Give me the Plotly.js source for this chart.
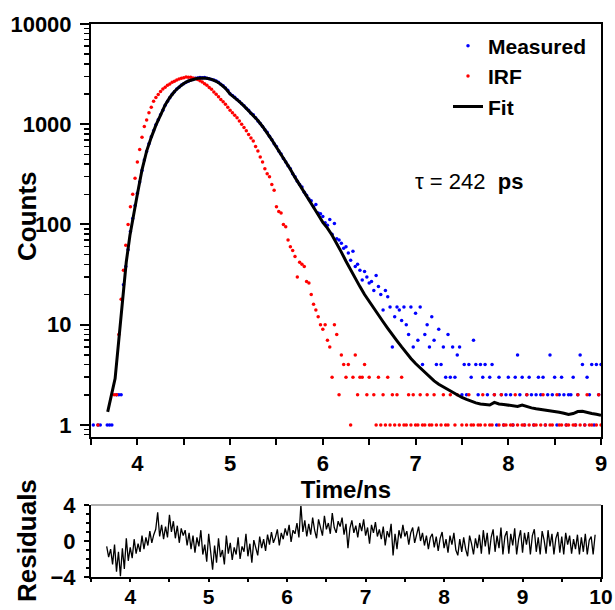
<!DOCTYPE html>
<html>
<head>
<meta charset="utf-8">
<script src="https://cdn.plot.ly/plotly-3.0.1.min.js"></script>
<style>
  html, body { margin: 0; padding: 0; background: #ffffff; }
  #chart { width: 615px; height: 610px; }
</style>
</head>
<body>
<div id="chart"></div>
<script>
// ---------- DATA ----------
// TCSPC channels: first channel time and channel width (ns)
const channelStart = 3.525;
const channelWidth = 0.025;

// Measured decay counts per channel (null = zero counts, not drawn on log axis)
const measuredCounts = [
  1, null, 1, 1, null, null, 1, 1, 1, null,
  2, 2, 2, 25, 38, 56, 85, 115, 155, 205,
  265, 345, 440, 535, 640, 750, 860, 990, 1110, 1240,
  1380, 1550, 1700, 1840, 1990, 2110, 2250, 2340, 2460, 2540,
  2630, 2690, 2760, 2800, 2870, 2900, 2930, 2910, 2920, 2880,
  2850, 2800, 2760, 2700, 2620, 2510, 2420, 2300, 2180, 2020,
  1940, 1860, 1770, 1690, 1600, 1530, 1440, 1380, 1290, 1240,
  1160, 1080, 1020, 950, 880, 830, 760, 700, 640, 600,
  540, 505, 455, 420, 385, 360, 320, 300, 270, 250,
  236, 210, 196, 180, 172, 150, 158, 130, 128, 120,
  104, 98, 112, 80, 102, 72, 70, 65, 58, 60,
  52, 44, 54, 38, 40, 35, 28, 34, 30, 26,
  27, 22, 31, 24, 20, 14, 22, 19, 15, 6,
  12, 15, 14, 11, 15, 10, 8, 15, 6, 13,
  7, 15, 4, 8, 10, 6, 12, 7, 4, 9,
  4, 6, 3, 8, 3, 6, 3, 5, 6, 2,
  4, 2, 4, 3, 7, 4, 2, 4, 3, 4,
  2, 3, 4, 2, 1, 3, 2, 1, 2, 3,
  2, 1, 3, 5, 2, 3, 1, 2, 3, 2,
  1, 2, 3, 2, 3, 1, 2, 5, 2, 3,
  1, 2, 3, 2, 1, 2, 2, 3, 1, 2,
  5, 4, 1, 3, 2, 4, 1, 4, 2, 4
];

// Instrument response function counts per channel
const irfCounts = [
  null, null, 1, null, null, null, null, null, null, 2,
  2, 8, 18, 35, 62, 100, 150, 200, 290, 420,
  560, 740, 950, 1100, 1300, 1480, 1700, 1850, 1980, 2120,
  2250, 2340, 2450, 2520, 2620, 2680, 2760, 2820, 2880, 2910,
  2960, 2940, 2950, 2900, 2860, 2800, 2720, 2640, 2540, 2450,
  2330, 2230, 2100, 1990, 1880, 1770, 1680, 1580, 1480, 1380,
  1300, 1230, 1160, 1080, 1000, 930, 860, 790, 730, 680,
  600, 540, 470, 420, 360, 320, 300, 250, 220, 150,
  135, 130, 100, 95, 70, 60, 55, 48, 30, 42,
  40, 38, 27, 26, 20, 16, 14, 12, 10, 9,
  10, 7, 6, 3, 10, 8, 2, 5, 4, 3,
  4, 1, 3, 5, 2, 3, 3, 4, 2, 3,
  null, 2, 1, 3, 1, 2, 1, 3, 1, 2,
  1, 2, 1, 3, 1, 1, 2, 1, 2, 1,
  1, 2, 1, 1, 2, 1, 1, 2, 1, null,
  1, 2, 1, 1, 2, null, 1, 2, null, 1,
  null, 1, 2, 1, 1, null, 1, 1, 2, 1,
  null, 1, 1, 2, null, 1, 2, 1, 1, null,
  1, 1, 2, 1, null, 1, 1, 2, 1, null,
  1, 1, null, 1, 2, 1, null, 1, 1, null,
  2, 1, 1, null, 1, 1, null, 1, 1, 2,
  1, null, 1, 2, 1, 1, null, 1, 2, 1
];

// Fitted curve (time in ns, counts)
const fitTime = [
  3.68, 3.70, 3.72, 3.74, 3.76, 3.78, 3.80, 3.82, 3.85, 3.88,
  3.92, 3.96, 4.00, 4.05, 4.10, 4.15, 4.20, 4.25, 4.30, 4.35,
  4.40, 4.45, 4.50, 4.55, 4.60, 4.65, 4.70, 4.75, 4.80, 4.85,
  4.90, 4.95, 5.00, 5.05, 5.10, 5.15, 5.20, 5.25, 5.30, 5.35,
  5.40, 5.45, 5.50, 5.55, 5.60, 5.65, 5.70, 5.75, 5.80, 5.85,
  5.90, 5.95, 6.00, 6.05, 6.10, 6.15, 6.20, 6.25, 6.30, 6.35,
  6.40, 6.45, 6.50, 6.55, 6.60, 6.65, 6.70, 6.75, 6.80, 6.85,
  6.90, 6.95, 7.00, 7.05, 7.10, 7.15, 7.20, 7.25, 7.30, 7.35,
  7.40, 7.45, 7.50, 7.55, 7.60, 7.65, 7.70, 7.75, 7.80, 7.85,
  7.90, 7.95, 8.00, 8.05, 8.10, 8.15, 8.20, 8.25, 8.30, 8.35,
  8.40, 8.45, 8.50, 8.55, 8.60, 8.65, 8.70, 8.75, 8.80, 8.85,
  8.90, 8.95, 9.00
];
const fitCounts = [
  1.35, 1.6, 2.0, 2.4, 2.9, 4.5, 7.5, 12, 25, 42,
  78, 130, 200, 350, 540, 740, 980, 1230, 1560, 1850,
  2120, 2350, 2550, 2700, 2810, 2880, 2900, 2880, 2800, 2680,
  2500, 2280, 2000, 1850, 1680, 1520, 1370, 1230, 1090, 950,
  820, 700, 590, 500, 420, 355, 295, 250, 210, 178,
  150, 125, 105, 92, 78, 65, 53, 43, 35, 29,
  24, 20, 17, 14.5, 12.5, 10.7, 9.2, 7.9, 6.9, 6.0,
  5.2, 4.6, 4.1, 3.7, 3.3, 3.0, 2.75, 2.55, 2.4, 2.25,
  2.1, 1.98, 1.88, 1.8, 1.72, 1.66, 1.62, 1.6, 1.58, 1.68,
  1.62, 1.6, 1.58, 1.55, 1.53, 1.58, 1.52, 1.48, 1.45, 1.43,
  1.41, 1.39, 1.36, 1.34, 1.31, 1.27, 1.30, 1.36, 1.37, 1.33,
  1.30, 1.28, 1.25
];

// Weighted residuals (first residual channel time, same channel width)
const residualStart = 3.70;
const residuals = [
  -0.6, -1.8, -0.9, -2.6, -0.4, -3.4, -1.2, -3.9, -0.8, -3.1,
  0.3, -2.2, -0.7, -1.9, 0.2, -1.4, -0.3, -1.2, 0.6, -0.9,
  0.4, -0.5, 1.1, -0.2, 0.7, 1.3, 3.2, 0.5, 1.8, 0.2,
  1.6, 0.4, 2.9, 1.0, 2.2, 0.3, 1.7, -0.2, 1.4, 0.6,
  1.2, -0.5, 0.9, -0.9, 0.6, -1.3, 0.4, -0.6, 1.2, -1.5,
  -0.4, -2.3, 0.8, -1.6, -3.2, -0.5, -2.4, 0.3, -1.8, -1.0,
  -2.6, 0.6, -1.4, -0.2, -2.1, -0.7, -1.5, 0.4, -2.0, -0.6,
  -1.2, 0.8, -1.7, -0.3, -2.4, 0.1, -0.9, -1.6, 0.5, -0.8,
  0.2, -1.1, 0.7, -0.4, 1.0, -0.2, 0.4, 1.3, -0.5, 0.9,
  0.2, 1.4, 0.6, 1.8, -0.1, 1.2, 0.8, 2.0, 0.4, 4.0,
  1.0, 2.3, 0.5, 1.9, 0.7, 2.6, 1.2, 0.3, 2.4, 1.5,
  0.6, 2.8, 1.3, 2.0, 0.8, 3.1, 1.5, 0.9, 2.2, 1.6,
  2.6, 0.7, 1.9, -0.8, 1.4, 2.3, 0.9, 1.7, 0.4, 2.0,
  1.1, 2.4, 0.6, 1.5, -0.3, 1.8, 0.9, 2.1, 0.5, 1.3,
  0.2, 1.6, -0.5, 1.1, 0.4, 1.9, -1.6, 0.8, -0.9, 1.2,
  0.3, 1.8, 0.5, 1.1, -0.4, 0.9, 1.5, -0.2, 0.7, 1.6,
  0.0, 0.9, -0.5, 0.6, -0.9, 0.4, 0.8, -0.7, 0.5, -1.1,
  0.3, 1.0, -0.8, 0.2, -1.3, 0.6, -0.4, 0.9, -1.0, -1.6,
  0.2, -1.2, 0.4, -0.9, -1.7, 0.6, -0.3, -1.5, 0.3, -0.8,
  0.7, -1.4, 1.2, -0.6, 0.9, -1.5, 0.4, 1.3, -1.2, 0.6,
  -0.8, 1.5, -1.5, 0.5, 1.1, -1.4, 0.8, -0.5, 1.4, -1.5,
  0.2, 1.2, -1.3, 0.9, -0.4, 1.0, -1.5, 0.6, 1.3, -1.2,
  0.4, -1.5, 1.1, 0.1, -1.4, 1.2, -0.6, 0.8, -1.5, 0.3,
  1.0, -1.3, 0.5, -1.5, 0.9, -0.4, 0.6, -1.4, 0.2, -0.9,
  0.7, -1.5, 0.4, -1.2, 0.8, -1.5, 0.1, 0.5, -1.5, 0.7
];

const seriesNames = ['Measured', 'IRF', 'Fit'];
const countTicks = [1, 10, 100, 1000, 10000];
const countTickLabels = ['1', '10', '100', '1000', '10000'];
const lifetimeLabel = 'τ = 242  <b>ps</b>';
const xTitleTop = 'Time/ns';
const yTitleTop = 'Counts';
const yTitleBottom = 'Residuals';

// ---------- BUILD ----------
const channelTimes = (arr, t0) => arr.map((_, i) => +(t0 + i * channelWidth).toFixed(4));
const measuredTime = channelTimes(measuredCounts, channelStart);
const irfTime = channelTimes(irfCounts, channelStart);
const residualTime = channelTimes(residuals, residualStart);

const FONT = 'Liberation Sans, Arial, sans-serif';

const traces = [
  { x: measuredTime, y: measuredCounts, name: seriesNames[0], type: 'scatter', mode: 'markers',
    marker: { color: '#0000ff', size: 3.5 }, xaxis: 'x', yaxis: 'y' },
  { x: irfTime, y: irfCounts, name: seriesNames[1], type: 'scatter', mode: 'markers',
    marker: { color: '#ff0000', size: 3.5 }, xaxis: 'x', yaxis: 'y' },
  { x: fitTime, y: fitCounts, name: seriesNames[2], type: 'scatter', mode: 'lines',
    line: { color: '#000000', width: 3 }, xaxis: 'x', yaxis: 'y' },
  { x: residualTime, y: residuals, name: 'Residuals', type: 'scatter', mode: 'lines',
    line: { color: '#000000', width: 1.3 }, xaxis: 'x2', yaxis: 'y2', showlegend: false }
];

const tickFont = { family: FONT, size: 22, color: '#000', weight: 'bold' };

const layout = {
  width: 615, height: 610,
  margin: { l: 91, r: 14, t: 24, b: 33 },
  paper_bgcolor: '#ffffff', plot_bgcolor: '#ffffff',
  font: { family: FONT, color: '#000' },
  showlegend: true,
  legend: {
    x: 0.70, y: 0.997, xanchor: 'left', yanchor: 'top',
    font: { family: FONT, size: 21, color: '#000', weight: 'bold' },
    bgcolor: 'rgba(0,0,0,0)', tracegroupgap: 0
  },
  xaxis: {
    domain: [0, 1], anchor: 'y', range: [3.5, 9], dtick: 1, tick0: 0,
    showline: true, linewidth: 2, linecolor: '#000', mirror: true,
    ticks: 'outside', ticklen: 6, tickwidth: 2, tickcolor: '#000',
    minor: { dtick: 0.5, ticks: 'outside', ticklen: 6, tickwidth: 2, tickcolor: '#000' },
    showgrid: false, zeroline: false,
    tickfont: tickFont, ticklabelstandoff: 0,
    title: { text: xTitleTop, font: { family: FONT, size: 24, color: '#000', weight: 'bold' }, standoff: 0 }
  },
  yaxis: {
    domain: [0.2532, 1], anchor: 'x', type: 'log', range: [-0.12, 4.0],
    tickvals: countTicks, ticktext: countTickLabels,
    showline: true, linewidth: 2, linecolor: '#000', mirror: true,
    ticks: 'outside', ticklen: 9, tickwidth: 2, tickcolor: '#000',
    minor: { dtick: 'D1', ticks: 'outside', ticklen: 5, tickwidth: 1.5, tickcolor: '#000' },
    showgrid: false, zeroline: false,
    tickfont: tickFont, ticklabelstandoff: 4
  },
  xaxis2: {
    domain: [0, 1], anchor: 'y2', range: [3.5, 10], dtick: 1, tick0: 0,
    showline: true, linewidth: 2, linecolor: '#000',
    ticks: 'outside', ticklen: 3, tickwidth: 2, tickcolor: '#000',
    minor: { dtick: 0.5, ticks: 'outside', ticklen: 3, tickwidth: 2, tickcolor: '#000' },
    showgrid: false, zeroline: false,
    tickfont: { family: FONT, size: 21, color: '#000', weight: 'bold' }, ticklabelstandoff: -3
  },
  yaxis2: {
    domain: [0, 0.1302], anchor: 'x2', range: [-4, 4], tickvals: [-4, 0, 4],
    showline: true, linewidth: 2, linecolor: '#000', mirror: true,
    ticks: 'outside', ticklen: 5, tickwidth: 2, tickcolor: '#000',
    minor: { dtick: 1, ticks: 'outside', ticklen: 3, tickwidth: 1.5, tickcolor: '#000' },
    showgrid: false, zeroline: false,
    tickfont: tickFont, ticklabelstandoff: 4
  },
  shapes: [
    { type: 'line', xref: 'x2 domain', yref: 'y2 domain', x0: 0, x1: 1, y0: 1, y1: 1,
      line: { color: '#b0b0b0', width: 2 } }
  ],
  annotations: [
    { text: lifetimeLabel, xref: 'paper', yref: 'paper', x: 0.741, y: 0.7148,
      xanchor: 'center', yanchor: 'middle', showarrow: false,
      font: { family: FONT, size: 22, color: '#000' } },
    { text: yTitleTop, xref: 'paper', yref: 'paper', x: -0.1255, y: 0.6528,
      xanchor: 'center', yanchor: 'middle', showarrow: false, textangle: -90,
      font: { family: FONT, size: 26, color: '#000', weight: 'bold' } },
    { text: yTitleBottom, xref: 'paper', yref: 'paper', x: -0.1255, y: 0.0669,
      xanchor: 'center', yanchor: 'middle', showarrow: false, textangle: -90,
      font: { family: FONT, size: 26, color: '#000', weight: 'bold' } }
  ]
};

Plotly.newPlot('chart', traces, layout, { displayModeBar: false, staticPlot: true });
</script>
</body>
</html>
